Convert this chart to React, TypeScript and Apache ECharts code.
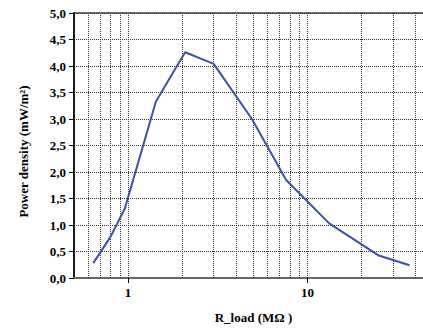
import React, { useEffect, useRef } from "react";
import * as echarts from "echarts";

const rLoad = [0.64, 0.8, 0.96, 1.43, 2.08, 3.0, 4.9, 7.6, 13.2, 24.7, 37];
const powerDensity = [0.28, 0.78, 1.31, 3.33, 4.26, 4.04, 3.0, 1.85, 1.03, 0.43, 0.24];
const minorGrid = [0.6, 0.7, 0.8, 0.9, 1, 2, 3, 4, 5, 6, 7, 8, 9, 10, 20, 30, 40];

const FONT = "Liberation Serif";

export default function App() {
  const ref = useRef<HTMLDivElement>(null);
  useEffect(() => {
    if (!ref.current) return;
    const chart = echarts.init(ref.current, undefined, { renderer: "svg" });
    chart.setOption({
      animation: false,
      backgroundColor: "#ffffff",
      grid: {
        left: 74,
        top: 13,
        right: 7,
        bottom: 51,
        show: true,
        borderColor: "#707070",
        borderWidth: 2,
        backgroundColor: "transparent",
      },
      xAxis: {
        type: "log",
        logBase: 10,
        min: 0.5,
        max: 50,
        name: "R_load (MΩ )",
        nameLocation: "middle",
        nameGap: 33,
        nameTextStyle: { fontFamily: FONT, fontWeight: "bold", fontSize: 13, color: "#000" },
        axisLine: { lineStyle: { color: "#666", width: 2 } },
        axisTick: { show: true, length: 5, lineStyle: { color: "#000" } },
        axisLabel: {
          showMinLabel: false,
          showMaxLabel: false,
          fontFamily: FONT,
          fontWeight: "bold",
          fontSize: 13,
          color: "#000",
          margin: 8,
        },
        splitLine: { show: false },
      },
      yAxis: {
        type: "value",
        min: 0,
        max: 5,
        interval: 0.5,
        name: "Power density (mW/m²)",
        nameLocation: "middle",
        nameGap: 44,
        nameTextStyle: {
          fontFamily: FONT,
          fontWeight: "bold",
          fontSize: 13,
          color: "#000",
          padding: [0, 12, 0, 0],
        },
        axisLine: { show: true, lineStyle: { color: "#000", width: 1.5 } },
        axisTick: { show: true, length: 5, lineStyle: { color: "#000" } },
        axisLabel: {
          fontFamily: FONT,
          fontWeight: "bold",
          fontSize: 13,
          color: "#000",
          margin: 8,
          formatter: (v: number) => v.toFixed(1).replace(".", ","),
        },
        splitLine: { show: true, lineStyle: { color: "#333", type: "dotted", width: 1 } },
      },
      series: [
        {
          type: "line",
          data: rLoad.map((x, i) => [x, powerDensity[i]]),
          symbol: "none",
          z: 3,
          lineStyle: { color: "#3a52a8", width: 2 },
          markLine: {
            silent: true,
            z: 1,
            symbol: ["none", "none"],
            label: { show: false },
            lineStyle: { color: "#333", type: "dotted", width: 1 },
            data: minorGrid.map((v) => ({ xAxis: v })),
          },
        },
      ],
    });
    return () => chart.dispose();
  }, []);
  return (
    <div style={{ position: "fixed", left: 0, top: 0, width: 423, height: 329, overflow: "hidden", background: "#fff" }}>
      <div ref={ref} style={{ width: 440, height: 329 }} />
    </div>
  );
}
